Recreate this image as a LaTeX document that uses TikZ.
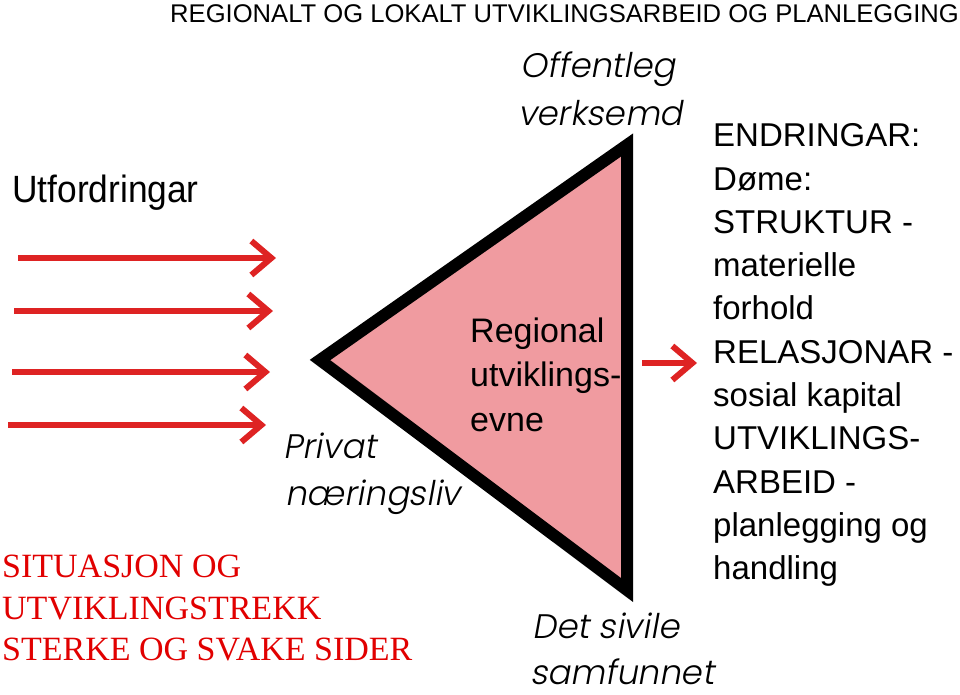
\documentclass[tikz,border=0pt]{standalone}
\usepackage{fontspec}
\setmainfont{Liberation Sans}
\newfontfamily\serifred{Liberation Serif}
\newfontfamily\gothic[FakeSlant=0.18]{Poppins Light}
\newfontfamily\narrowsans[FakeStretch=0.93]{Liberation Sans}
\usetikzlibrary{arrows.meta}
\definecolor{arrowred}{RGB}{222,35,35}
\definecolor{textred}{RGB}{225,0,0}
\definecolor{pinkfill}{RGB}{240,155,160}
\tikzset{
  txt/.style={inner sep=0pt, anchor=base west},
  redarrow/.style={draw=arrowred, line width=6pt, -{Straight Barb[length=20pt,width=34pt]}},
  tri/.style={draw=black, fill=pinkfill, line width=12pt, line join=miter},
  gothictxt/.style={txt, font=\gothic\fontsize{34}{40}\selectfont},
  bigsans/.style={txt, font=\fontsize{33}{40}\selectfont},
}
\begin{document}
\begin{tikzpicture}[x=1pt,y=-1pt]
\useasboundingbox (0,0) rectangle (960,694);
% title
\node[txt, font=\fontsize{25.6}{30}\selectfont] (title) at (170,22) {REGIONALT OG LOKALT UTVIKLINGSARBEID OG PLANLEGGING};
% Utfordringar
\node[txt, font=\narrowsans\fontsize{38}{44}\selectfont] (utf) at (12,202) {Utfordringar};
% red arrows
\coordinate (a1s) at (18,258); \coordinate (a1e) at (276,258);
\coordinate (a2s) at (14,311); \coordinate (a2e) at (273,311);
\coordinate (a3s) at (12,372); \coordinate (a3e) at (270,372);
\coordinate (a4s) at (8,425);  \coordinate (a4e) at (266,425);
\draw[redarrow] (a1s) -- (a1e);
\draw[redarrow] (a2s) -- (a2e);
\draw[redarrow] (a3s) -- (a3e);
\draw[redarrow] (a4s) -- (a4e);
% triangle
\coordinate (tl) at (320,360);
\coordinate (tt) at (627,145);
\coordinate (tb) at (627,590);
\draw[tri] (tl) -- (tt) -- (tb) -- cycle;
% inner text
\node[bigsans, font=\fontsize{34}{40}\selectfont] (reg1) at (470,342) {Regional};
\node[bigsans, font=\fontsize{34}{40}\selectfont] (reg2) at (470,386) {utviklings-};
\node[bigsans, font=\fontsize{34}{40}\selectfont] (reg3) at (470,431) {evne};
% gothic labels
\node[gothictxt] (off1) at (520,77) {Offentleg};
\node[gothictxt] (off2) at (518,125) {verksemd};
\node[gothictxt] (pri1) at (283,458) {Privat};
\node[gothictxt] (pri2) at (285,505) {næringsliv};
\node[gothictxt] (det1) at (532,638) {Det sivile};
\node[gothictxt] (det2) at (530,684) {samfunnet};
% small arrow
\coordinate (sas) at (642,363); \coordinate (sae) at (697,363);
\draw[redarrow] (sas) -- (sae);
% right block
\foreach \t [count=\i from 0] in {ENDRINGAR:,Døme:,STRUKTUR -,materielle,forhold,RELASJONAR -,sosial kapital,UTVIKLINGS-,ARBEID -,planlegging og,handling}{
  \node[bigsans] (end\i) at (713,146.7+43.3*\i) {\t};
}
% red serif block
\node[txt, text=textred, font=\serifred\fontsize{34}{40}\selectfont] (sit1) at (2,577) {SITUASJON OG};
\node[txt, text=textred, font=\serifred\fontsize{34}{40}\selectfont] (sit2) at (2,619) {UTVIKLINGSTREKK};
\node[txt, text=textred, font=\serifred\fontsize{34}{40}\selectfont] (sit3) at (2,660) {STERKE OG SVAKE SIDER};
\end{tikzpicture}
\end{document}
